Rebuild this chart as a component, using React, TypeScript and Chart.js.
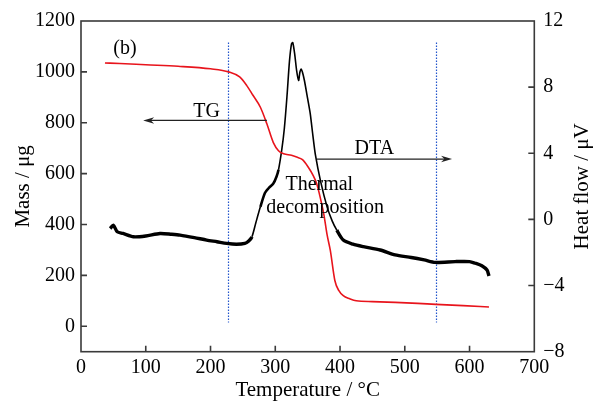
import React, { useEffect, useRef } from 'react';
import { Chart, registerables } from 'chart.js';
Chart.register(...registerables);

// ---- data ----
const tgTemps = [37, 60, 100, 150, 200, 228, 245, 256, 265, 277, 287, 297, 305, 313, 325, 333, 342, 351, 358, 364, 370, 375, 380, 385, 392, 398, 405, 415, 425, 450, 485, 520, 548, 590, 630];
const tgMass = [1035, 1033, 1028, 1022, 1012, 1000, 980, 946, 910, 861, 796, 722, 690, 678, 672, 665, 655, 625, 595, 560, 500, 440, 360, 298, 180, 141, 120, 108, 100, 97, 94, 90, 86, 81, 76];

const dtaTemps = [45, 50, 56, 65, 81, 100, 122, 140, 153, 175, 194, 210, 225, 240, 253, 259, 264, 270, 277, 284, 290, 297, 302, 305, 310, 314, 318, 322, 325, 327, 330, 333, 336, 338, 340, 342, 345, 350, 354, 358, 362, 370, 380, 388, 395, 405, 420, 436, 462, 485, 510, 530, 547, 578, 600, 609, 619, 627, 630];
const dtaHeat = [-0.55, -0.35, -0.75, -0.85, -1.05, -1.0, -0.85, -0.9, -0.95, -1.1, -1.25, -1.35, -1.45, -1.5, -1.45, -1.3, -1.05, -0.2, 0.76, 1.6, 1.9, 2.17, 2.6, 3.0, 4.2, 5.5, 7.4, 9.6, 10.6, 10.7, 10.0, 9.0, 8.4, 8.9, 9.1, 8.9, 8.4, 7.3, 6.4, 5.1, 3.9, 2.3, 0.76, -0.1, -0.65, -1.25, -1.5, -1.65, -1.85, -2.15, -2.3, -2.45, -2.6, -2.55, -2.55, -2.65, -2.8, -3.06, -3.42];

const tempTicks = [0, 100, 200, 300, 400, 500, 600, 700];
const massTicks = [0, 200, 400, 600, 800, 1000, 1200];
const heatTicks = [-8, -4, 0, 4, 8, 12];
const markerTemps = [227, 548];
const markerMassRange = [15, 1115];

const FONT = "'Liberation Serif', 'Times New Roman', serif";
Chart.defaults.font.family = FONT;

function drawArrow(ctx: CanvasRenderingContext2D, x1: number, y1: number, x2: number, y2: number) {
  const dir = Math.sign(x2 - x1);
  const head = 11;
  ctx.beginPath();
  ctx.moveTo(x1, y1);
  ctx.lineTo(x2 - dir * head * 0.6, y2);
  ctx.stroke();
  ctx.beginPath();
  ctx.moveTo(x2, y2);
  ctx.lineTo(x2 - dir * head, y2 - 3.2);
  ctx.lineTo(x2 - dir * head * 0.7, y2);
  ctx.lineTo(x2 - dir * head, y2 + 3.2);
  ctx.closePath();
  ctx.fill();
}

const decor = {
  id: 'decor',
  beforeDatasetsDraw(chart: any) {
    const { ctx, scales } = chart;
    const x = scales.x, y = scales.y;
    ctx.save();
    ctx.strokeStyle = '#2255cc';
    ctx.lineWidth = 1.2;
    ctx.setLineDash([1.5, 1.5]);
    markerTemps.forEach((t) => {
      const px = Math.round(x.getPixelForValue(t)) + 0.5;
      ctx.beginPath();
      ctx.moveTo(px, y.getPixelForValue(markerMassRange[1]));
      ctx.lineTo(px, y.getPixelForValue(markerMassRange[0]));
      ctx.stroke();
    });
    ctx.restore();
  },
  afterDraw(chart: any) {
    const { ctx, chartArea: a, scales } = chart;
    const x = scales.x, y = scales.y, y1 = scales.y1;
    ctx.save();
    // frame
    ctx.strokeStyle = '#3a3a3a';
    ctx.lineWidth = 1.6;
    ctx.strokeRect(a.left, a.top, a.right - a.left, a.bottom - a.top);
    // inward ticks
    const tl = 6;
    ctx.beginPath();
    tempTicks.forEach((v) => {
      if (v <= 0 || v >= 700) return;
      const px = x.getPixelForValue(v);
      ctx.moveTo(px, a.bottom);
      ctx.lineTo(px, a.bottom - tl);
    });
    massTicks.forEach((v) => {
      if (v >= 1200) return;
      const py = y.getPixelForValue(v);
      ctx.moveTo(a.left, py);
      ctx.lineTo(a.left + tl, py);
    });
    heatTicks.forEach((v) => {
      if (v <= -8 || v >= 12) return;
      const py = y1.getPixelForValue(v);
      ctx.moveTo(a.right, py);
      ctx.lineTo(a.right - tl, py);
    });
    ctx.stroke();

    // arrows
    ctx.strokeStyle = '#222';
    ctx.fillStyle = '#222';
    ctx.lineWidth = 1.3;
    const tgY = y.getPixelForValue(809);
    drawArrow(ctx, x.getPixelForValue(287), tgY, x.getPixelForValue(96), tgY);
    const dtaY = y1.getPixelForValue(3.65);
    drawArrow(ctx, x.getPixelForValue(364), dtaY, x.getPixelForValue(573), dtaY);

    // annotation text
    ctx.fillStyle = '#000';
    ctx.font = `20px ${FONT}`;
    ctx.textAlign = 'center';
    ctx.textBaseline = 'alphabetic';
    ctx.fillText('(b)', x.getPixelForValue(68), y.getPixelForValue(1070));
    ctx.fillText('TG', x.getPixelForValue(194), y.getPixelForValue(824));
    ctx.fillText('DTA', x.getPixelForValue(453), y1.getPixelForValue(3.94));
    ctx.fillText('Thermal', x.getPixelForValue(368), y.getPixelForValue(534));
    ctx.fillText('decomposition', x.getPixelForValue(377), y.getPixelForValue(447));

    // axis titles
    ctx.font = `21px ${FONT}`;
    ctx.textBaseline = 'middle';
    ctx.fillText('Temperature / °C', (a.left + a.right) / 2, 390);
    ctx.save();
    ctx.translate(23, (a.top + a.bottom) / 2);
    ctx.rotate(-Math.PI / 2);
    ctx.fillText('Mass / μg', 0, 0);
    ctx.restore();
    ctx.save();
    ctx.translate(582, (a.top + a.bottom) / 2);
    ctx.rotate(-Math.PI / 2);
    ctx.fillText('Heat flow / μV', 0, 0);
    ctx.restore();
    ctx.restore();
  },
};

export default function App() {
  const ref = useRef<HTMLCanvasElement>(null);
  useEffect(() => {
    if (!ref.current) return;
    const tickFont = { family: FONT, size: 20 };
    const chart = new Chart(ref.current, {
      type: 'line',
      data: {
        datasets: [
          {
            label: 'TG',
            data: tgTemps.map((t, i) => ({ x: t, y: tgMass[i] })),
            yAxisID: 'y',
            borderColor: '#e8141c',
            borderWidth: 1.6,
            pointRadius: 0,
            cubicInterpolationMode: 'monotone',
            fill: false,
          },
          {
            label: 'DTA',
            data: dtaTemps.map((t, i) => ({ x: t, y: dtaHeat[i] })),
            yAxisID: 'y1',
            borderColor: '#000',
            borderWidth: 1.6,
            pointRadius: 0,
            tension: 0.25,
            fill: false,
            segment: {
              borderWidth: (c: any) => {
                const t = c.p0.parsed.x;
                if (t < 262 || t > 392) return 3.4;
                if (t > 276 && t < 304) return 2.6;
                return 1.6;
              },
            },
          },
        ],
      } as any,
      options: {
        animation: false,
        responsive: false,
        devicePixelRatio: 1,
        layout: { padding: { top: 20, left: 0, right: 0, bottom: 0 } },
        plugins: { legend: { display: false }, title: { display: false }, tooltip: { enabled: false } },
        scales: {
          x: {
            type: 'linear',
            position: 'bottom',
            min: 0,
            max: 700,
            afterBuildTicks: (s: any) => { s.ticks = tempTicks.map((v) => ({ value: v })); },
            afterFit: (s: any) => { s.height = 51.3; },
            ticks: { font: tickFont, color: '#000', padding: 4, maxRotation: 0, autoSkip: false, callback: (v: any) => String(v) },
            grid: { display: false, drawTicks: false },
            border: { display: false },
          },
          y: {
            type: 'linear',
            position: 'left',
            min: -100,
            max: 1200,
            afterBuildTicks: (s: any) => { s.ticks = massTicks.map((v) => ({ value: v })); },
            afterFit: (s: any) => { s.width = 81; },
            ticks: { font: tickFont, color: '#000', padding: 6, autoSkip: false, callback: (v: any) => String(v) },
            grid: { display: false, drawTicks: false },
            border: { display: false },
          },
          y1: {
            type: 'linear',
            position: 'right',
            min: -8,
            max: 12,
            afterBuildTicks: (s: any) => { s.ticks = heatTicks.map((v) => ({ value: v })); },
            afterFit: (s: any) => { s.width = 60.7; },
            ticks: {
              font: tickFont,
              color: '#000',
              padding: 9,
              autoSkip: false,
              callback: (v: any) => String(v).replace('-', '\u2212'),
            },
            grid: { display: false, drawTicks: false },
            border: { display: false },
          },
        },
      } as any,
      plugins: [decor],
    });
    return () => chart.destroy();
  }, []);
  return (
    <div style={{ position: 'absolute', left: 0, top: 0, width: 595, height: 403, background: '#fff' }}>
      <canvas ref={ref} width={595} height={403} />
    </div>
  );
}
